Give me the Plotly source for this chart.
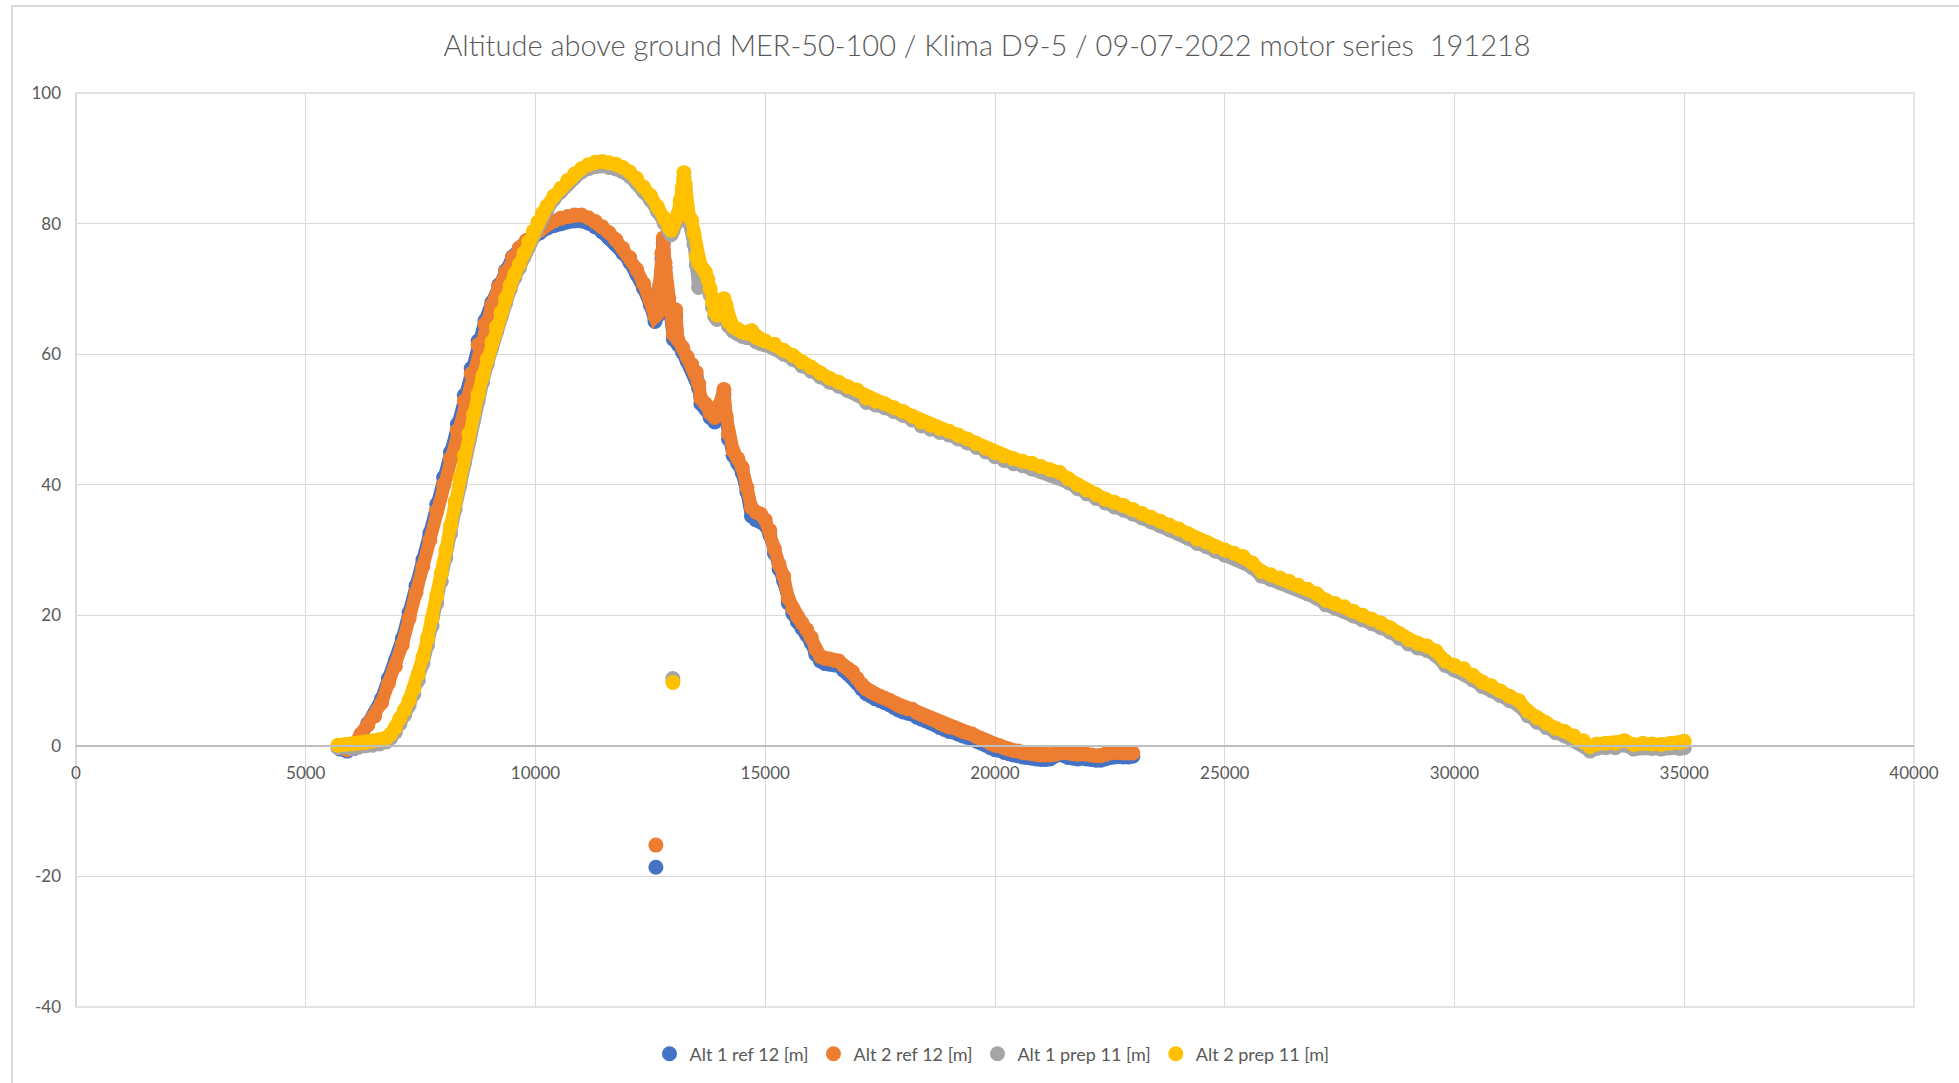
import plotly.graph_objects as go

# ---------------- data ----------------
t_ref = [5750, 5900, 6050, 6200, 6350, 6500, 6650, 6800, 6950, 7100, 7250, 7400, 7550, 7700,
         7850, 8000, 8150, 8300, 8450, 8600, 8750, 8900, 9050, 9200, 9350, 9500, 9650, 9800,
         9950, 10100, 10250, 10400, 10550, 10700, 10850, 11000, 11150, 11300, 11450, 11600,
         11750, 11900, 12050, 12200, 12350, 12500, 12600, 12650, 12700, 12750, 12780, 12820,
         12860, 12900, 12950, 13000, 13050, 13100, 13200, 13300, 13400, 13500, 13550, 13600,
         13700, 13800, 13900, 14000, 14100, 14150, 14200, 14300, 14400, 14500, 14600, 14700,
         14800, 14900, 15000, 15100, 15200, 15300, 15400, 15500, 15600, 15700, 15800, 15900,
         16000, 16100, 16200, 16300, 16400, 16500, 16600, 16700, 16800, 16900, 17000, 17100,
         17200, 17300, 17400, 17500, 17600, 17700, 17800, 17900, 18000, 18100, 18200, 18300,
         18400, 18500, 18600, 18700, 18800, 18900, 19000, 19100, 19200, 19300, 19400, 19500,
         19600, 19700, 19800, 19900, 20000, 20100, 20200, 20300, 20400, 20500, 20600, 20700,
         20800, 20900, 21000, 21100, 21200, 21300, 21400, 21500, 21600, 21700, 21800, 21900,
         22000, 22100, 22200, 22300, 22400, 22500, 22600, 22700, 22800, 22900, 23000]

alt2_ref = [-0.3, -0.6, 0.2, 1.8, 3.2, 4.6, 6.6, 9.6, 12.2, 15.5, 19.5, 23.5, 27.5, 31.5,
            36.0, 40.0, 44.0, 48.3, 52.8, 57.0, 61.4, 64.6, 67.5, 70.3, 72.6, 74.8, 76.3, 77.4,
            78.2, 79.0, 79.9, 80.4, 80.8, 81.1, 81.3, 81.3, 80.9, 80.3, 79.5, 78.6,
            77.5, 76.2, 74.8, 73.0, 70.8, 68.2, 65.8, 66.2, 70.5, 75.5, 77.8, 74.0,
            70.5, 68.5, 66.5, 63.0, 66.8, 62.2, 61.0, 59.6, 58.4, 57.2, 55.5, 53.2,
            52.4, 51.0, 50.3, 52.2, 54.6, 50.5, 47.8, 45.2, 44.0, 42.6, 39.6, 36.5,
            35.8, 35.5, 34.6, 33.0, 30.2, 27.8, 26.0, 22.6, 21.0, 19.8, 18.8, 17.8,
            16.6, 14.8, 13.7, 13.4, 13.3, 13.1, 13.0, 12.3, 11.8, 11.3, 10.3, 9.4,
            8.7, 8.3, 7.9, 7.6, 7.3, 7.0, 6.6, 6.2, 5.9, 5.7, 5.6, 5.1,
            4.8, 4.5, 4.2, 3.9, 3.5, 3.2, 2.9, 2.8, 2.5, 2.2, 2.0, 1.8,
            1.4, 1.1, 0.8, 0.4, 0.1, 0.0, -0.3, -0.5, -0.7, -0.8, -1.0, -1.1,
            -1.2, -1.3, -1.4, -1.4, -1.4, -1.3, -1.1, -1.0, -1.1, -1.2, -1.3, -1.2,
            -1.3, -1.4, -1.5, -1.5, -1.3, -1.1, -1.0, -1.0, -1.1, -1.1, -1.1]

alt1_ref = [-0.5, -0.8, -0.4, 1.5, 3.4, 5.0, 7.2, 10.3, 13.0, 16.4, 20.4, 24.5, 28.5, 32.6,
            37.0, 41.1, 45.0, 49.3, 53.7, 57.8, 62.0, 65.1, 67.9, 70.6, 72.8, 74.9, 76.2, 77.2,
            77.9, 78.6, 79.3, 79.7, 80.0, 80.3, 80.4, 80.4, 80.1, 79.5, 78.7, 77.8,
            76.8, 75.5, 74.1, 72.3, 70.1, 67.5, 65.0, 65.8, 70.0, 74.6, 77.0, 73.3,
            69.8, 67.8, 65.8, 62.3, 66.0, 61.5, 60.3, 58.9, 57.7, 56.5, 54.8, 52.4,
            51.6, 50.3, 49.6, 51.5, 53.8, 49.8, 47.0, 44.5, 43.3, 41.8, 38.9, 35.2,
            34.6, 34.3, 33.8, 32.3, 29.5, 27.1, 25.3, 21.9, 20.3, 19.0, 18.0, 17.0,
            15.8, 14.0, 13.0, 12.6, 12.5, 12.4, 12.3, 11.6, 11.0, 10.5, 9.6, 8.7,
            8.0, 7.6, 7.2, 6.9, 6.6, 6.3, 5.9, 5.5, 5.2, 5.0, 4.9, 4.4,
            4.1, 3.8, 3.5, 3.2, 2.8, 2.5, 2.2, 2.1, 1.8, 1.5, 1.3, 1.1,
            0.7, 0.4, 0.1, -0.3, -0.6, -0.7, -1.0, -1.2, -1.4, -1.5, -1.7, -1.8,
            -1.9, -2.0, -2.1, -2.1, -2.0, -1.6, -1.2, -1.5, -1.8, -1.9, -2.0, -1.9,
            -2.0, -2.1, -2.2, -2.2, -2.0, -1.8, -1.7, -1.6, -1.7, -1.7, -1.6]

t_prep = [5700, 5850, 6000, 6150, 6300, 6450, 6600, 6750, 6850, 6950, 7050, 7150, 7250, 7350,
          7450, 7550, 7650, 7750, 7850, 7950, 8050, 8150, 8250, 8350, 8450, 8550, 8650, 8750,
          8850, 8950, 9050, 9150, 9250, 9350, 9450, 9550, 9650, 9750, 9850, 9950, 10050, 10150,
          10250, 10400, 10550, 10700, 10850, 11000, 11150, 11300, 11450, 11600, 11750, 11900,
          12050, 12200, 12350, 12500, 12650, 12800, 12900, 12950, 13000, 13050, 13100, 13150,
          13200, 13230, 13260, 13300, 13350, 13400, 13450, 13500, 13550, 13600, 13650, 13700,
          13750, 13800, 13850, 13900, 13950, 14000, 14050, 14100, 14150, 14200, 14300, 14400,
          14500, 14600, 14700, 14800, 14900, 15000, 15200, 15400, 15600, 15800, 16000, 16200,
          16400, 16600, 16800, 17000, 17200, 17400, 17600, 17800, 18000, 18200, 18400, 18600,
          18800, 19000, 19200, 19400, 19600, 19800, 20000, 20200, 20400, 20600, 20800, 21000,
          21200, 21400, 21600, 21800, 22000, 22200, 22400, 22600, 22800, 23000, 23200, 23400,
          23600, 23800, 24000, 24200, 24400, 24600, 24800, 25000, 25200, 25400, 25600, 25800,
          26000, 26200, 26400, 26600, 26800, 27000, 27200, 27400, 27600, 27800, 28000, 28200,
          28400, 28600, 28800, 29000, 29200, 29400, 29600, 29800, 30000, 30200, 30400, 30600,
          30800, 31000, 31200, 31400, 31600, 31800, 32000, 32200, 32400, 32600, 32800, 32950,
          33100, 33300, 33500, 33700, 33900, 34100, 34300, 34500, 34700, 34900, 35000]

alt2_prep = [0.1, 0.2, 0.3, 0.4, 0.5, 0.7, 0.9, 1.2, 1.8, 2.8, 4.2, 5.5, 7.0, 8.8,
             11.0, 13.6, 16.5, 19.5, 23.0, 26.4, 30.0, 33.7, 37.4, 41.0, 44.5, 47.8, 50.8, 53.8,
             56.6, 59.2, 61.8, 64.2, 66.4, 68.5, 70.5, 72.3, 73.8, 75.5, 77.2, 78.8, 80.2, 81.6,
             82.7, 84.2, 85.4, 86.6, 87.6, 88.4, 89.0, 89.4, 89.5, 89.3, 89.1, 88.6,
             87.9, 86.9, 85.6, 84.3, 82.6, 80.8, 79.5, 79.0, 79.8, 80.6, 81.5, 83.5,
             85.5, 87.8, 86.0, 82.5, 81.0, 80.5, 78.5, 75.0, 74.0, 73.5, 73.0, 72.5,
             71.5, 70.0, 68.0, 66.5, 66.0, 67.0, 66.5, 68.5, 67.5, 65.0, 64.2, 63.8,
             63.4, 63.2, 63.6, 62.6, 62.3, 62.0, 61.5, 60.6, 59.8, 58.8, 58.0, 57.1,
             56.3, 55.7, 55.0, 54.5, 53.3, 52.8, 52.4, 51.8, 51.2, 50.5, 49.6, 49.1,
             48.6, 48.2, 47.6, 47.0, 46.3, 45.6, 44.9, 44.4, 44.0, 43.6, 43.3, 42.8,
             42.3, 41.9, 40.9, 40.0, 39.2, 38.5, 37.8, 37.3, 36.8, 36.2, 35.6, 35.0,
             34.4, 33.8, 33.2, 32.5, 31.7, 31.2, 30.5, 30.0, 29.5, 29.0, 28.0, 26.7,
             26.2, 25.7, 25.2, 24.6, 24.0, 23.3, 22.3, 21.8, 21.3, 20.6, 20.0, 19.4,
             18.8, 18.1, 17.2, 16.3, 15.7, 15.3, 14.5, 13.0, 12.3, 11.8, 10.8, 9.8,
             9.2, 8.4, 7.6, 6.9, 5.3, 4.3, 3.5, 2.7, 2.2, 1.5, 0.8, -0.1,
             0.3, 0.4, 0.4, 0.8, 0.2, 0.4, 0.3, 0.2, 0.4, 0.5, 0.7]

alt1_prep = [-0.3, -0.2, -0.4, -0.2, 0.0, 0.1, 0.3, 0.6, 1.2, 2.1, 3.4, 4.7, 6.2, 7.9,
             10.0, 12.6, 15.4, 18.4, 21.8, 25.2, 28.8, 32.5, 36.2, 39.8, 43.3, 46.7, 49.8, 52.8,
             55.7, 58.4, 61.0, 63.4, 65.7, 67.8, 69.9, 71.7, 73.2, 74.9, 76.6, 78.2, 79.6, 81.0,
             82.1, 83.7, 84.9, 86.1, 87.1, 87.9, 88.4, 88.7, 88.8, 88.6, 88.4, 87.9,
             87.2, 86.2, 84.9, 83.6, 81.9, 80.1, 78.8, 78.3, 79.0, 79.9, 80.8, 82.8,
             84.8, 87.0, 85.2, 81.6, 80.0, 79.4, 76.8, 73.6, 70.2, 72.4, 72.0, 71.6,
             70.6, 69.1, 67.2, 65.8, 65.3, 66.2, 65.8, 67.7, 66.8, 64.3, 63.5, 63.1,
             62.7, 62.5, 62.9, 61.9, 61.6, 61.4, 60.9, 60.0, 59.2, 58.2, 57.4, 56.5,
             55.7, 55.1, 54.4, 53.8, 52.6, 52.2, 51.8, 51.2, 50.6, 49.9, 49.0, 48.5,
             48.0, 47.6, 47.0, 46.4, 45.7, 45.0, 44.3, 43.7, 43.2, 42.9, 42.4, 42.0,
             41.5, 41.2, 40.3, 39.4, 38.6, 37.9, 37.2, 36.6, 36.1, 35.5, 34.9, 34.3,
             33.7, 33.1, 32.5, 31.8, 31.0, 30.5, 29.8, 29.2, 28.8, 28.3, 27.3, 26.0,
             25.5, 25.0, 24.5, 23.9, 23.3, 22.6, 21.6, 21.1, 20.6, 19.9, 19.3, 18.7,
             18.1, 17.4, 16.5, 15.6, 15.0, 14.6, 13.8, 12.3, 11.6, 11.1, 10.1, 9.1,
             8.5, 7.7, 6.9, 6.2, 4.6, 3.6, 2.8, 2.0, 1.5, 0.8, 0.1, -0.8,
             -0.4, -0.3, -0.3, 0.1, -0.5, -0.3, -0.4, -0.5, -0.3, -0.4, -0.3]

# isolated stray samples
t_ref_stray = [12620]
alt1_ref_stray = [-18.6]
alt2_ref_stray = [-15.2]
t_prep_stray = [12990]
alt1_prep_stray = [10.3]
alt2_prep_stray = [9.7]

series_names = ["Alt 1 ref 12 [m]", "Alt 2 ref 12 [m]", "Alt 1 prep 11 [m]", "Alt 2 prep 11 [m]"]
series_colors = ["#4472C4", "#ED7D31", "#A5A5A5", "#FFC000"]

x_ticks = [0, 5000, 10000, 15000, 20000, 25000, 30000, 35000, 40000]
y_ticks = [-40, -20, 0, 20, 40, 60, 80, 100]

title_text = "Altitude above ground MER-50-100 / Klima D9-5 / 09-07-2022 motor series  191218"

# ---------------- figure ----------------
series = [
    (t_ref, alt1_ref, t_ref_stray, alt1_ref_stray),
    (t_ref, alt2_ref, t_ref_stray, alt2_ref_stray),
    (t_prep, alt1_prep, t_prep_stray, alt1_prep_stray),
    (t_prep, alt2_prep, t_prep_stray, alt2_prep_stray),
]

fig = go.Figure()
MS = 15
for (tx, vy, sx, sy), name, col in zip(series, series_names, series_colors):
    fig.add_trace(go.Scatter(x=tx, y=vy, mode="lines", line=dict(color=col, width=13),
                             showlegend=False, legendgroup=name, hoverinfo="skip"))
    fig.add_trace(go.Scatter(x=tx, y=vy, mode="markers", name=name, legendgroup=name,
                             marker=dict(color=col, size=MS, line=dict(width=0))))
    fig.add_trace(go.Scatter(x=sx, y=sy, mode="markers", showlegend=False, legendgroup=name,
                             marker=dict(color=col, size=MS, line=dict(width=0))))

L, R, T, B = 76, 45, 93, 75
W, H = 1959, 1083
ph = H - T - B
pw = W - L - R

grid = "#d9d9d9"
tick_font = dict(family="Lato, 'Open Sans', sans-serif", size=17, color="#595959")

fig.update_layout(
    width=W, height=H,
    margin=dict(l=L, r=R, t=T, b=B, pad=0),
    paper_bgcolor="white", plot_bgcolor="white",
    title=dict(text=title_text, x=(987 - L) / pw, xref="paper", xanchor="center",
               y=1 - 46 / H, yref="container", yanchor="middle",
               font=dict(family="Lato, 'Open Sans', sans-serif", size=29, color="#595959", weight=300)),
    xaxis=dict(range=[0, 40000], tickvals=x_ticks, ticktext=[str(v) for v in x_ticks],
               showgrid=True, gridcolor=grid, gridwidth=1.3,
               zeroline=True, zerolinecolor=grid, zerolinewidth=2,
               showline=True, linecolor="#bfbfbf", linewidth=2,
               anchor="free", position=40 / 140,
               ticks="", ticklabelstandoff=12, tickfont=tick_font),
    yaxis=dict(range=[-40, 100], tickvals=y_ticks, ticktext=[str(v) for v in y_ticks],
               showgrid=True, gridcolor=grid, gridwidth=1.3,
               zeroline=True, zerolinecolor="#bfbfbf", zerolinewidth=2,
               showline=False, ticks="", ticklabelstandoff=14, tickfont=tick_font),
    legend=dict(orientation="h", x=(992 - L) / pw, xanchor="center",
                y=(H - B - 1054) / ph, yanchor="middle",
                font=dict(family="Lato, 'Open Sans', sans-serif", size=18, color="#595959"),
                itemclick=False, tracegroupgap=0, bgcolor="rgba(0,0,0,0)"),
    showlegend=True,
    shapes=[
        dict(type="rect", xref="paper", yref="paper", x0=0, x1=1, y0=0, y1=1,
             line=dict(color=grid, width=1.3), fillcolor="rgba(0,0,0,0)", layer="below"),
        dict(type="rect", xref="paper", yref="paper",
             x0=(12 - L) / pw, x1=(W + 20 - L) / pw,
             y0=(H - B - (H + 20)) / ph, y1=(H - B - 6) / ph,
             line=dict(color=grid, width=2), fillcolor="rgba(0,0,0,0)", layer="below"),
    ],
)

fig.write_html("out.html")
